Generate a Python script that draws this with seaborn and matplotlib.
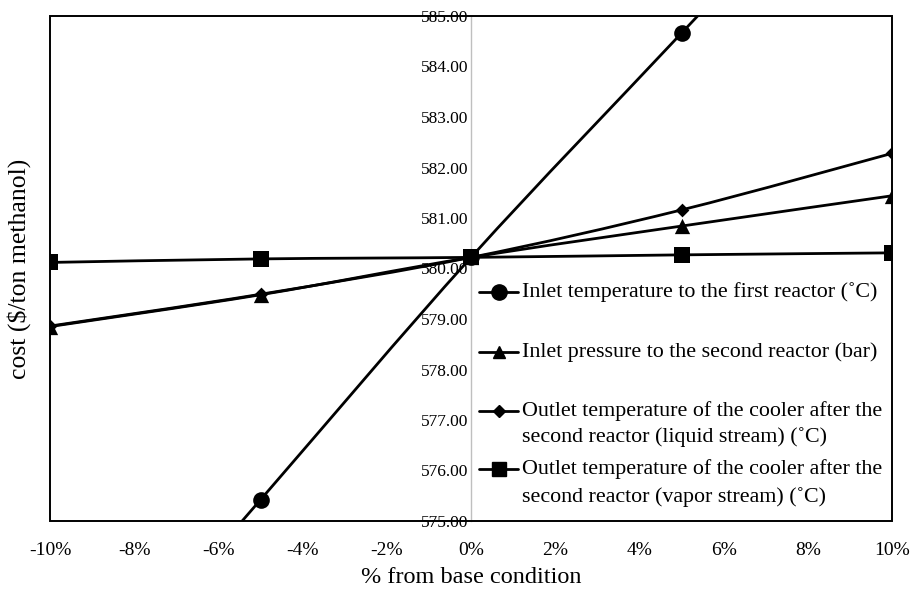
import numpy as np
import pandas as pd
import seaborn as sns
import matplotlib
matplotlib.use("Agg")
import matplotlib.pyplot as plt
from matplotlib.path import Path
from matplotlib.patches import PathPatch, Rectangle
from matplotlib.lines import Line2D

sns.set_theme(style="white")
plt.rcParams['font.family'] = ['Liberation Serif', 'DejaVu Serif']
plt.rcParams['text.color'] = 'black'
plt.rcParams['xtick.color'] = 'black'
plt.rcParams['ytick.color'] = 'black'
plt.rcParams['axes.labelcolor'] = 'black'

# ---- data ----
x_pct = [-10, -5, 0, 5, 10]
inlet_temp_first = [570.6, 575.42, 580.22, 584.66, 589.1]
inlet_press_second = [578.85, 579.48, 580.22, 580.84, 581.44]
outlet_liquid = [578.86, 579.49, 580.22, 581.16, 582.28]
outlet_vapor = [580.12, 580.19, 580.22, 580.27, 580.31]

labels = [
    "Inlet temperature to the first reactor (˚C)",
    "Inlet pressure to the second reactor (bar)",
    "Outlet temperature of the cooler after the\nsecond reactor (liquid stream) (˚C)",
    "Outlet temperature of the cooler after the\nsecond reactor (vapor stream) (˚C)",
]
series = [inlet_temp_first, inlet_press_second, outlet_liquid, outlet_vapor]
markers = ["o", "^", "D", "s"]
msizes = [12, 11, 7, 11]
leg_msizes = [11, 9, 6, 10]

x_ticks = [-10, -8, -6, -4, -2, 0, 2, 4, 6, 8, 10]
y_ticks = [575, 576, 577, 578, 579, 580, 581, 582, 583, 584, 585]

W, H = 917, 593
fig = plt.figure(figsize=(W / 100, H / 100), dpi=100)
L, R, T, B = 50, 892, 16, 521
ax = fig.add_axes([L / W, 1 - B / H, (R - L) / W, (B - T) / H])


def ax_x(px):
    return (px - L) / (R - L)


def ax_y(py):
    return 1 - (py - T) / (B - T)


def smooth_path(xs, ys):
    pts = np.column_stack([xs, ys]).astype(float)
    n = len(pts)
    verts = [pts[0]]
    codes = [Path.MOVETO]
    for i in range(n - 1):
        p0 = pts[i - 1] if i > 0 else pts[i]
        p1 = pts[i]
        p2 = pts[i + 1]
        p3 = pts[i + 2] if i + 2 < n else pts[i + 1]
        c1 = p1 + (p2 - p0) / 6.0
        c2 = p2 - (p3 - p1) / 6.0
        verts += [c1, c2, p2]
        codes += [Path.CURVE4] * 3
    return Path(verts, codes)


rows = []
for lab, ys in zip(labels, series):
    for xv, yv in zip(x_pct, ys):
        rows.append({"x": xv, "cost": yv, "series": lab})
df = pd.DataFrame(rows)

for lab, ys, mk, ms in zip(labels, series, markers, msizes):
    patch = PathPatch(smooth_path(x_pct, ys), facecolor="none", edgecolor="black",
                      lw=2.0, zorder=3, clip_on=True)
    ax.add_patch(patch)
    sub = df[df["series"] == lab]
    sns.scatterplot(data=sub, x="x", y="cost", marker=mk, s=ms ** 2, color="black",
                    edgecolor="black", linewidth=0, ax=ax, zorder=4, legend=False)

ax.set_xlim(-10, 10)
ax.set_ylim(575, 585)

# frame
for sp in ["top", "right", "bottom"]:
    ax.spines[sp].set_visible(False)
ax.spines["left"].set_position(("data", 0))
ax.spines["left"].set_color("#bfbfbf")
ax.spines["left"].set_linewidth(1.0)
ax.add_patch(Rectangle((0, 0), 1, 1, transform=ax.transAxes, fill=False,
                       edgecolor="black", lw=1.4, zorder=5, clip_on=False))

ax.set_xticks(x_ticks)
ax.set_xticklabels([f"{v}%" for v in x_ticks], fontsize=14)
ax.set_yticks(y_ticks)
ax.set_yticklabels([f"{v:.2f}" for v in y_ticks], fontsize=12.5)
ax.tick_params(axis="x", length=0, pad=15)
ax.tick_params(axis="y", length=0, pad=2)

ax.set_xlabel("% from base condition", fontsize=17.5)
ax.xaxis.set_label_coords(0.5, -0.092)
ax.set_ylabel("cost (\\$/ton methanol)", fontsize=18.5)
ax.yaxis.set_label_coords(-0.022, 0.5)

# legend drawn entry by entry (marker aligned with first text line, as in the reference)
line_ys = [[292], [352], [411, 437], [469, 497]]
hx0, hx1, tx = 479, 518, 522
for lab, mk, ms, ys in zip(labels, markers, leg_msizes, line_ys):
    y0 = ax_y(ys[0])
    ax.add_line(Line2D([ax_x(hx0), ax_x(hx1)], [y0, y0], transform=ax.transAxes,
                       color="black", lw=2, clip_on=False, zorder=6))
    ax.add_line(Line2D([ax_x((hx0 + hx1) / 2)], [y0], transform=ax.transAxes,
                       color="black", marker=mk, markersize=ms, lw=0,
                       clip_on=False, zorder=6))
    for txt, yy in zip(lab.split("\n"), ys):
        ax.text(ax_x(tx), ax_y(yy), txt, transform=ax.transAxes, fontsize=15.8,
                ha="left", va="center", color="black", zorder=6)

fig.savefig("out.png", dpi=100)
